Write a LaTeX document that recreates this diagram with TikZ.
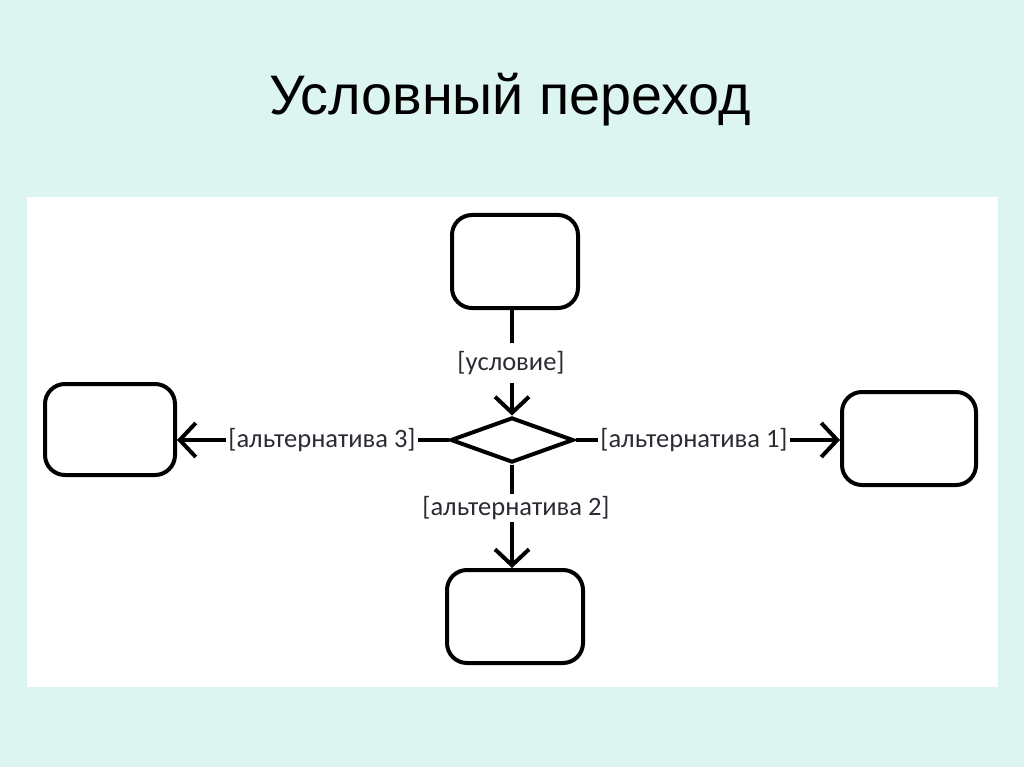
\documentclass[tikz,border=0pt]{standalone}
\usepackage{fontspec}
\setmainfont{Liberation Sans}
\newfontfamily\guardfont{Carlito}
\usetikzlibrary{arrows.meta,shapes.geometric}

\definecolor{slidebg}{HTML}{DDF5F1}
\definecolor{guardtext}{HTML}{2A2C34}

\tikzset{
  state/.style={draw, line width=4pt, rounded corners=20pt, inner sep=0pt},
  choice/.style={draw, diamond, line width=4pt, inner sep=0pt},
  guard/.style={inner sep=2pt, text=guardtext, font=\guardfont\fontsize{26.5}{28}\selectfont},
  flow/.style={line width=4pt},
  flowarrow/.style={line width=4pt, -{Straight Barb[length=16pt,width=34pt]}}
}

\begin{document}
\begin{tikzpicture}[x=1pt,y=-1pt]
% background and panel
\fill[slidebg] (0,0) rectangle (1024,767);
\fill[white] (27,197) rectangle (998,687);
\useasboundingbox (0,0) rectangle (1024,767);

\node[anchor=base, font=\fontsize{55.7}{58}\selectfont] (title) at (510,115) {Условный переход};

% states
\node[state, minimum width=126pt, minimum height=93pt] (top) at (515,261.5) {};
\node[state, minimum width=130pt, minimum height=91pt] (left) at (110,429.5) {};
\node[state, minimum width=134pt, minimum height=93pt] (right) at (909,438.5) {};
\node[state, minimum width=136pt, minimum height=93pt] (bottom) at (515,616.5) {};

% decision
\node[choice, minimum width=123pt, minimum height=45pt] (dia) at (512,440) {};

% guards
\node[guard, outer ysep=6pt] (cond) at (511,363) {[условие]};
\node[guard] (alt3) at (322,440) {[альтернатива 3]};
\node[guard] (alt1) at (694,440) {[альтернатива 1]};
\node[guard] (alt2) at (516,508) {[альтернатива 2]};

% connectors
\draw[flow] (top.south -| dia.north) -- (cond.north -| dia.north);
\draw[flowarrow] (cond.south -| dia.north) -- (dia.north);
\draw[flow] (dia.west) -- (alt3.east);
\draw[flowarrow] (alt3.west) -- (left.east |- alt3.west);
\draw[flow] (dia.east) -- (alt1.west);
\draw[flowarrow] (alt1.east) -- (right.west |- alt1.east);
\draw[flow] (dia.south) -- (alt2.north -| dia.south);
\draw[flowarrow] (alt2.south -| dia.south) -- (bottom.north -| dia.south);
\end{tikzpicture}
\end{document}
